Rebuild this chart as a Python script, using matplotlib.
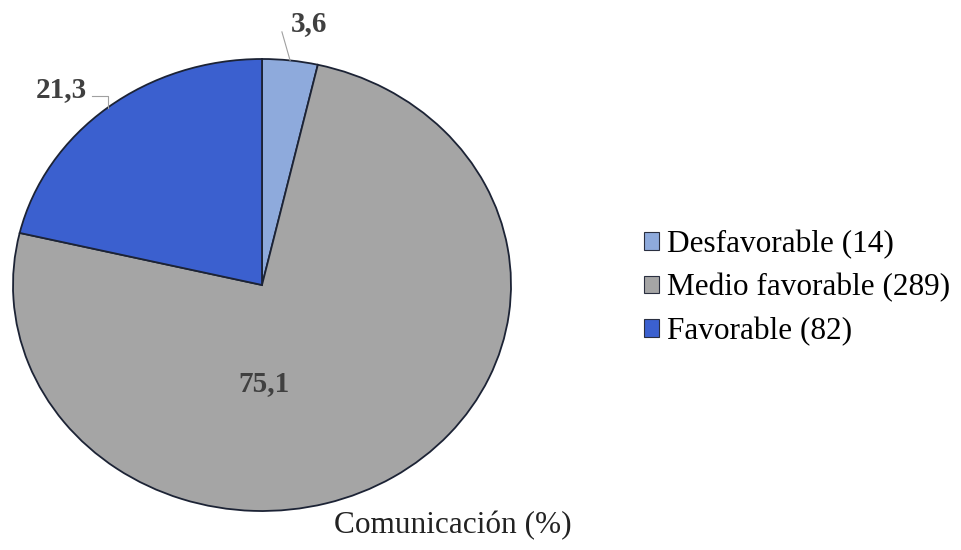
import numpy as np
import matplotlib.pyplot as plt
from matplotlib.patches import Patch

categorias = ['Desfavorable', 'Medio favorable', 'Favorable']
frecuencias = [14, 289, 82]
porcentajes = [3.6, 75.1, 21.3]
colores = ['#8eaadc', '#a5a5a5', '#3b60cf']

plt.rcParams['font.family'] = ['Liberation Serif', 'DejaVu Serif']

fig = plt.figure(figsize=(9.61, 5.50), dpi=100)
# pie area in pixels: center (262, 285), radii 249 x 226 (the original is stretched)
ax = fig.add_axes([13 / 961, (550 - 511) / 550, 498 / 961, 452 / 550])

wedges, _ = ax.pie(porcentajes, colors=colores, startangle=90, counterclock=False,
                   wedgeprops=dict(edgecolor='#1c2335', linewidth=1.3))
ax.set_aspect('auto')
ax.set_xlim(-1, 1)
ax.set_ylim(-1, 1)

etiquetas = [f'{p:.1f}'.replace('.', ',') for p in porcentajes]
txt = dict(fontsize=21, fontweight='bold', color='#404040', ha='center', va='center')

# 3,6 : recta hasta el borde del sector
w = wedges[0]
a = np.deg2rad((w.theta1 + w.theta2) / 2)
ax.plot([0.08, np.cos(a)], [1.12, np.sin(a)], color='#a0a0a0', lw=0.8, clip_on=False)
ax.text(0.19, 1.155, etiquetas[0], **txt)

# 75,1 dentro del sector
ax.text(0.01, -0.435, etiquetas[1], **txt)

# 21,3 : linea en codo
w = wedges[2]
a = np.deg2rad((w.theta1 + w.theta2) / 2)
ex, ey = np.cos(a), np.sin(a)
ax.plot([-0.683, ex, ex], [0.836, 0.836, ey], color='#a0a0a0', lw=0.8, clip_on=False)
ax.text(-0.807, 0.865, etiquetas[2], **txt)

handles = [Patch(facecolor=c, edgecolor='#2a2f40', linewidth=0.8) for c in colores]
labels = [f'{c} ({n})' for c, n in zip(categorias, frecuencias)]
fig.legend(handles, labels, loc='center left', bbox_to_anchor=(628 / 961, 1 - 288 / 550),
           frameon=False, fontsize=22.5, handlelength=0.5, handleheight=0.5,
           handletextpad=0.25, labelspacing=0.45, borderpad=0)

fig.text(453 / 961, 1 - 526 / 550, 'Comunicación (%)', fontsize=22.5, ha='center',
         va='center', color='#222222')

fig.savefig('out.png', dpi=100)
